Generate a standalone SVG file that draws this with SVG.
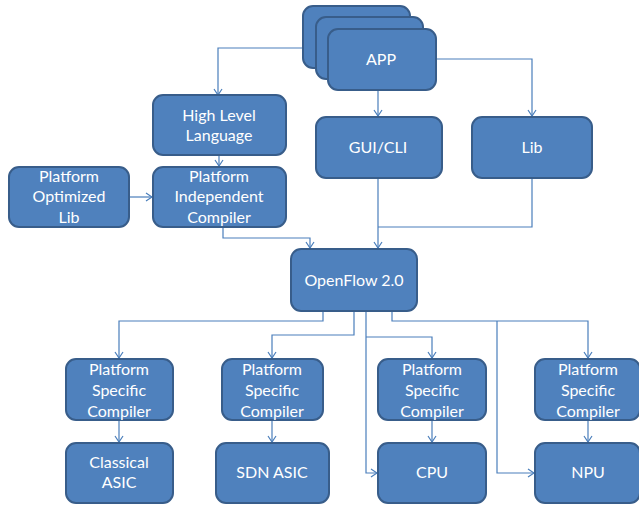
<svg xmlns="http://www.w3.org/2000/svg" width="639" height="506" viewBox="0 0 639 506">
<defs>
<style>
.n rect{fill:#4F81BD;stroke:#385D8A;stroke-width:2}
.n text{fill:#fff;font-family:Lato,"Liberation Sans",sans-serif;font-size:16px;text-anchor:middle;dominant-baseline:central;transform:translateY(-1.5px)}
.c path{fill:none;stroke:#4A7EBB;stroke-width:1.2}
</style>
<marker id="a" markerWidth="10" markerHeight="10" refX="5" refY="9" orient="0" markerUnits="userSpaceOnUse" viewBox="0 0 10 10">
<path d="M1,3 L5,9 L9,3" fill="none" stroke="#4A7EBB" stroke-width="1.2"/>
</marker>
<marker id="r" markerWidth="10" markerHeight="10" refX="9" refY="5" orient="0" markerUnits="userSpaceOnUse" viewBox="0 0 10 10">
<path d="M3,1 L9,5 L3,9" fill="none" stroke="#4A7EBB" stroke-width="1.2"/>
</marker>
</defs>
<rect width="639" height="506" fill="#fff"/>
<g class="c">
<path d="M316,48 H218 V95" marker-end="url(#a)"/>
<path d="M378,90 V116" marker-end="url(#a)"/>
<path d="M436,59 H532 V116" marker-end="url(#a)"/>
<path d="M219,155 V166" marker-end="url(#a)"/>
<path d="M129,197 H152" marker-end="url(#r)"/>
<path d="M223,227 V238 H310 V248" marker-end="url(#a)"/>
<path d="M378,178 V248" marker-end="url(#a)"/>
<path d="M532,178 V227 H378"/>
<path d="M323,311 V321 H119 V358" marker-end="url(#a)"/>
<path d="M354,311 V335 H272 V358" marker-end="url(#a)"/>
<path d="M366,311 V473 H377" marker-end="url(#r)"/>
<path d="M366,337 H432 V358" marker-end="url(#a)"/>
<path d="M392,311 V321 H588 V358" marker-end="url(#a)"/>
<path d="M497,321 V473 H534" marker-end="url(#r)"/>
<path d="M119,420 V442" marker-end="url(#a)"/>
<path d="M272,420 V442" marker-end="url(#a)"/>
<path d="M432,420 V442" marker-end="url(#a)"/>
<path d="M588,420 V442" marker-end="url(#a)"/>
</g>
<g id="app" class="n">
<rect x="303" y="6" width="107" height="62" rx="10"/>
<rect x="316" y="17" width="107" height="62" rx="10"/>
<rect x="328" y="29" width="108" height="61" rx="10"/>
<text x="381" y="60">APP</text>
</g>
<g id="gui" class="n"><rect x="316" y="117" width="126" height="61" rx="10"/><text x="378" y="148">GUI/CLI</text></g>
<g id="lib" class="n"><rect x="472" y="117" width="120" height="61" rx="10"/><text x="532" y="148">Lib</text></g>
<g id="hll" class="n"><rect x="153" y="95" width="133" height="60" rx="10"/><text x="219" y="116">High Level</text><text x="219" y="136">Language</text></g>
<g id="pic" class="n"><rect x="153" y="167" width="133" height="60" rx="10"/><text x="219" y="177">Platform</text><text x="219" y="197">Independent</text><text x="219" y="218">Compiler</text></g>
<g id="pol" class="n"><rect x="9" y="167" width="120" height="60" rx="10"/><text x="69" y="177">Platform</text><text x="69" y="197">Optimized</text><text x="69" y="218">Lib</text></g>
<g id="of" class="n"><rect x="291" y="249" width="126" height="62" rx="10"/><text x="354" y="281">OpenFlow 2.0</text></g>
<g id="psc1" class="n"><rect x="66" y="359" width="107" height="61" rx="10"/><text x="119" y="370">Platform</text><text x="119" y="391">Specific</text><text x="119" y="412">Compiler</text></g>
<g id="psc2" class="n"><rect x="222" y="359" width="101" height="61" rx="10"/><text x="272" y="370">Platform</text><text x="272" y="391">Specific</text><text x="272" y="412">Compiler</text></g>
<g id="psc3" class="n"><rect x="378" y="359" width="108" height="61" rx="10"/><text x="432" y="370">Platform</text><text x="432" y="391">Specific</text><text x="432" y="412">Compiler</text></g>
<g id="psc4" class="n"><rect x="535" y="359" width="105" height="61" rx="10"/><text x="588" y="370">Platform</text><text x="588" y="391">Specific</text><text x="588" y="412">Compiler</text></g>
<g id="asic" class="n"><rect x="66" y="443" width="107" height="60" rx="10"/><text x="119" y="463">Classical</text><text x="119" y="483">ASIC</text></g>
<g id="sdn" class="n"><rect x="216" y="443" width="113" height="60" rx="10"/><text x="272" y="473">SDN ASIC</text></g>
<g id="cpu" class="n"><rect x="378" y="443" width="108" height="60" rx="10"/><text x="432" y="473">CPU</text></g>
<g id="npu" class="n"><rect x="535" y="443" width="105" height="60" rx="10"/><text x="588" y="473">NPU</text></g>
</svg>
